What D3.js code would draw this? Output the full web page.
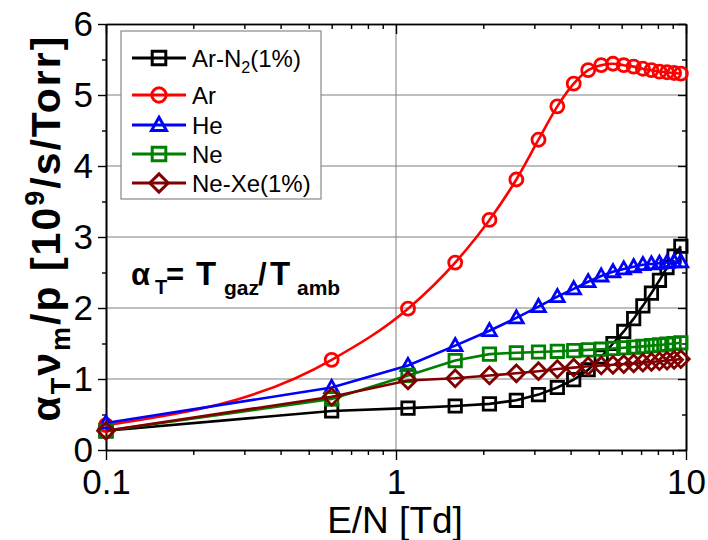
<!DOCTYPE html>
<html><head><meta charset="utf-8">
<script src="https://cdn.jsdelivr.net/npm/d3@7"></script>
<style>html,body{margin:0;padding:0;background:#fff;}svg{display:block;}</style>
</head><body>
<svg id="chart" width="708" height="540"></svg>
<script>
// ---- data ----
const ePoints = [0.1, 0.6, 1.1, 1.6, 2.1, 2.6, 3.1, 3.6, 4.1, 4.6, 5.1, 5.6, 6.1, 6.6, 7.1, 7.6, 8.1, 8.6, 9.1, 9.6];
const arN2 = [0.27, 0.55, 0.59, 0.62, 0.65, 0.70, 0.78, 0.88, 0.99, 1.13, 1.31, 1.50, 1.67, 1.85, 2.03, 2.21, 2.39, 2.57, 2.73, 2.87];
const ar   = [0.35, 1.27, 1.99, 2.64, 3.24, 3.81, 4.37, 4.84, 5.16, 5.35, 5.42, 5.44, 5.42, 5.40, 5.37, 5.35, 5.33, 5.32, 5.31, 5.30];
const he   = [0.38, 0.88, 1.19, 1.47, 1.68, 1.86, 2.02, 2.16, 2.27, 2.37, 2.45, 2.51, 2.55, 2.58, 2.61, 2.62, 2.63, 2.64, 2.65, 2.65];
const ne   = [0.27, 0.72, 1.05, 1.26, 1.35, 1.37, 1.38, 1.39, 1.40, 1.41, 1.42, 1.43, 1.44, 1.45, 1.46, 1.47, 1.48, 1.49, 1.50, 1.51];
const neXe = [0.27, 0.75, 0.98, 1.01, 1.05, 1.08, 1.11, 1.14, 1.16, 1.18, 1.19, 1.20, 1.21, 1.22, 1.23, 1.24, 1.25, 1.26, 1.27, 1.28];
const seriesNames = ["Ar-N2(1%)", "Ar", "He", "Ne", "Ne-Xe(1%)"];
const xTickLabels = [0.1, 1, 10];
const yTickLabels = [0, 1, 2, 3, 4, 5, 6];

// ---- layout ----
const L = 106, R = 686, T = 24, B = 450;
const svg = d3.select("#chart");
const font = "'Liberation Sans', Arial, sans-serif";
const x = d3.scaleLog().domain([0.1, 10]).range([L, R]);
const y = d3.scaleLinear().domain([0, 6]).range([B, T]);

const series = [
  {name: seriesNames[0], vals: arN2, color: "#000000", marker: "square", curve: d3.curveLinear},
  {name: seriesNames[1], vals: ar,   color: "#ff0000", marker: "circle", curve: d3.curveMonotoneX},
  {name: seriesNames[2], vals: he,   color: "#0000ff", marker: "triangle", curve: d3.curveLinear},
  {name: seriesNames[3], vals: ne,   color: "#008000", marker: "square", curve: d3.curveLinear},
  {name: seriesNames[4], vals: neXe, color: "#800000", marker: "diamond", curve: d3.curveLinear}
];

// grid
const grid = svg.append("g");
grid.selectAll("line.gy").data(yTickLabels.filter(v => v > 0 && v < 6)).join("line")
  .attr("x1", L).attr("x2", R).attr("y1", d => y(d)).attr("y2", d => y(d))
  .attr("stroke", "#7f7f7f").attr("stroke-width", 1);
grid.append("line").attr("x1", x(1)).attr("x2", x(1)).attr("y1", T).attr("y2", B)
  .attr("stroke", "#7f7f7f").attr("stroke-width", 1);

// axes
const xMinor = [];
[0.1, 1].forEach(d => { for (let k = 2; k <= 9; k++) xMinor.push(d * k); });
const yMinor = d3.range(0.5, 6, 1);

const axB = d3.axisBottom(x).tickValues(xTickLabels).tickFormat(d3.format("~g")).tickSize(10).tickSizeOuter(0).tickPadding(9);
const gB = svg.append("g").attr("transform", `translate(0,${B})`).call(axB);
const gBm = svg.append("g").attr("transform", `translate(0,${B})`).call(d3.axisBottom(x).tickValues(xMinor).tickFormat("").tickSize(5).tickSizeOuter(0));
const gT = svg.append("g").attr("transform", `translate(0,${T})`).call(d3.axisBottom(x).tickValues(xTickLabels).tickFormat("").tickSize(10).tickSizeOuter(0));
const gTm = svg.append("g").attr("transform", `translate(0,${T})`).call(d3.axisBottom(x).tickValues(xMinor).tickFormat("").tickSize(5).tickSizeOuter(0));
const gL = svg.append("g").attr("transform", `translate(${L},0)`).call(d3.axisLeft(y).tickValues(yTickLabels).tickFormat(d3.format("d")).tickSize(8).tickSizeOuter(0).tickPadding(5));
const gLm = svg.append("g").attr("transform", `translate(${L},0)`).call(d3.axisLeft(y).tickValues(yMinor).tickFormat("").tickSize(4).tickSizeOuter(0));
const gR = svg.append("g").attr("transform", `translate(${R},0)`).call(d3.axisLeft(y).tickValues(yTickLabels).tickFormat("").tickSize(8).tickSizeOuter(0));
const gRm = svg.append("g").attr("transform", `translate(${R},0)`).call(d3.axisLeft(y).tickValues(yMinor).tickFormat("").tickSize(4).tickSizeOuter(0));
[gB, gBm, gT, gTm, gL, gLm, gR, gRm].forEach(g => {
  g.selectAll("path.domain").attr("stroke", "#000").attr("stroke-width", 1.6);
  g.selectAll(".tick line").attr("stroke", "#000").attr("stroke-width", 1.4);
  g.selectAll("text").attr("font-family", font).attr("font-size", 35).attr("fill", "#000");
});
gB.selectAll("text").attr("dy", "0.71em");
gT.select("path.domain").attr("stroke", "#333");

// marker shapes
function markerPath(type, s) {
  if (type === "square") return `M${-s},${-s}H${s}V${s}H${-s}Z`;
  if (type === "triangle") return `M0,${-s * 1.15}L${s * 1.1},${s * 0.8}L${-s * 1.1},${s * 0.8}Z`;
  if (type === "diamond") return `M0,${-s * 1.35}L${s * 1.35},0L0,${s * 1.35}L${-s * 1.35},0Z`;
  return null;
}
function drawMarker(g, type, color, cx, cy, s, sw) {
  if (type === "circle") {
    g.append("circle").attr("cx", cx).attr("cy", cy).attr("r", s * 1.05)
      .attr("fill", "none").attr("stroke", color).attr("stroke-width", sw);
  } else {
    g.append("path").attr("d", markerPath(type, s)).attr("transform", `translate(${cx},${cy})`)
      .attr("fill", "none").attr("stroke", color).attr("stroke-width", sw).attr("stroke-linejoin", "miter");
  }
}

// series
const plot = svg.append("g");
series.forEach(s => {
  const pts = ePoints.map((e, i) => [e, s.vals[i]]);
  const line = d3.line().x(d => x(d[0])).y(d => y(d[1])).curve(s.curve);
  plot.append("path").attr("d", line(pts)).attr("fill", "none")
    .attr("stroke", s.color).attr("stroke-width", 2.6);
  const mg = plot.append("g");
  pts.forEach(d => drawMarker(mg, s.marker, s.color, x(d[0]), y(d[1]), 6.2, 2.8));
});

// legend
const lg = svg.append("g");
lg.append("rect").attr("x", 121).attr("y", 31).attr("width", 200).attr("height", 168)
  .attr("fill", "#fff").attr("stroke", "#888").attr("stroke-width", 1.2);
const rowY = [58, 95, 125, 154, 183];
series.forEach((s, i) => {
  lg.append("line").attr("x1", 132).attr("x2", 186).attr("y1", rowY[i]).attr("y2", rowY[i])
    .attr("stroke", s.color).attr("stroke-width", 3);
  drawMarker(lg, s.marker, s.color, 159, rowY[i], 6.8, 3);
  const t = lg.append("text").attr("x", 192).attr("y", rowY[i]).attr("dy", "0.36em")
    .attr("font-family", font).attr("font-size", 24).attr("fill", "#000");
  if (i === 0) {
    t.append("tspan").text("Ar-N");
    t.append("tspan").attr("font-size", 16).attr("dy", 6).text("2");
    t.append("tspan").attr("dy", -6).text("(1%)");
  } else {
    t.text(s.name);
  }
});

// annotation
const an = svg.append("text").attr("y", 285).attr("font-family", font)
  .attr("font-weight", "bold").attr("font-size", 31).attr("fill", "#000");
an.append("tspan").attr("x", 131).text("α");
an.append("tspan").attr("x", 155).attr("font-size", 20).attr("dy", 9).text("T");
an.append("tspan").attr("x", 166).attr("dy", -9).text("=");
an.append("tspan").attr("x", 196).attr("font-size", 33).text("T");
an.append("tspan").attr("x", 224).attr("font-size", 21).attr("dy", 10).text("gaz");
an.append("tspan").attr("x", 258).attr("dy", -10).text("/");
an.append("tspan").attr("x", 270).attr("font-size", 33).text("T");
an.append("tspan").attr("x", 297).attr("font-size", 21).attr("dy", 10).text("amb");

// axis titles
svg.append("text").attr("x", (L + R) / 2 - 1).attr("y", 533).attr("text-anchor", "middle")
  .attr("font-family", font).attr("font-size", 37).attr("fill", "#000").text("E/N [Td]");

const yt = svg.append("text").attr("transform", `translate(60,228) rotate(-90)`)
  .attr("text-anchor", "middle").attr("font-family", font).attr("font-weight", "bold")
  .attr("font-size", 41).attr("letter-spacing", 2).attr("fill", "#000");
yt.append("tspan").text("α");
yt.append("tspan").attr("font-size", 27).attr("dy", 10).text("T");
yt.append("tspan").attr("dy", -10).text("ν");
yt.append("tspan").attr("font-size", 27).attr("dy", 10).text("m");
yt.append("tspan").attr("dy", -10).text("/p [10");
yt.append("tspan").attr("font-size", 27).attr("dy", -16).text("9");
yt.append("tspan").attr("dy", 16).text("/s/Torr]");
</script>
</body></html>
